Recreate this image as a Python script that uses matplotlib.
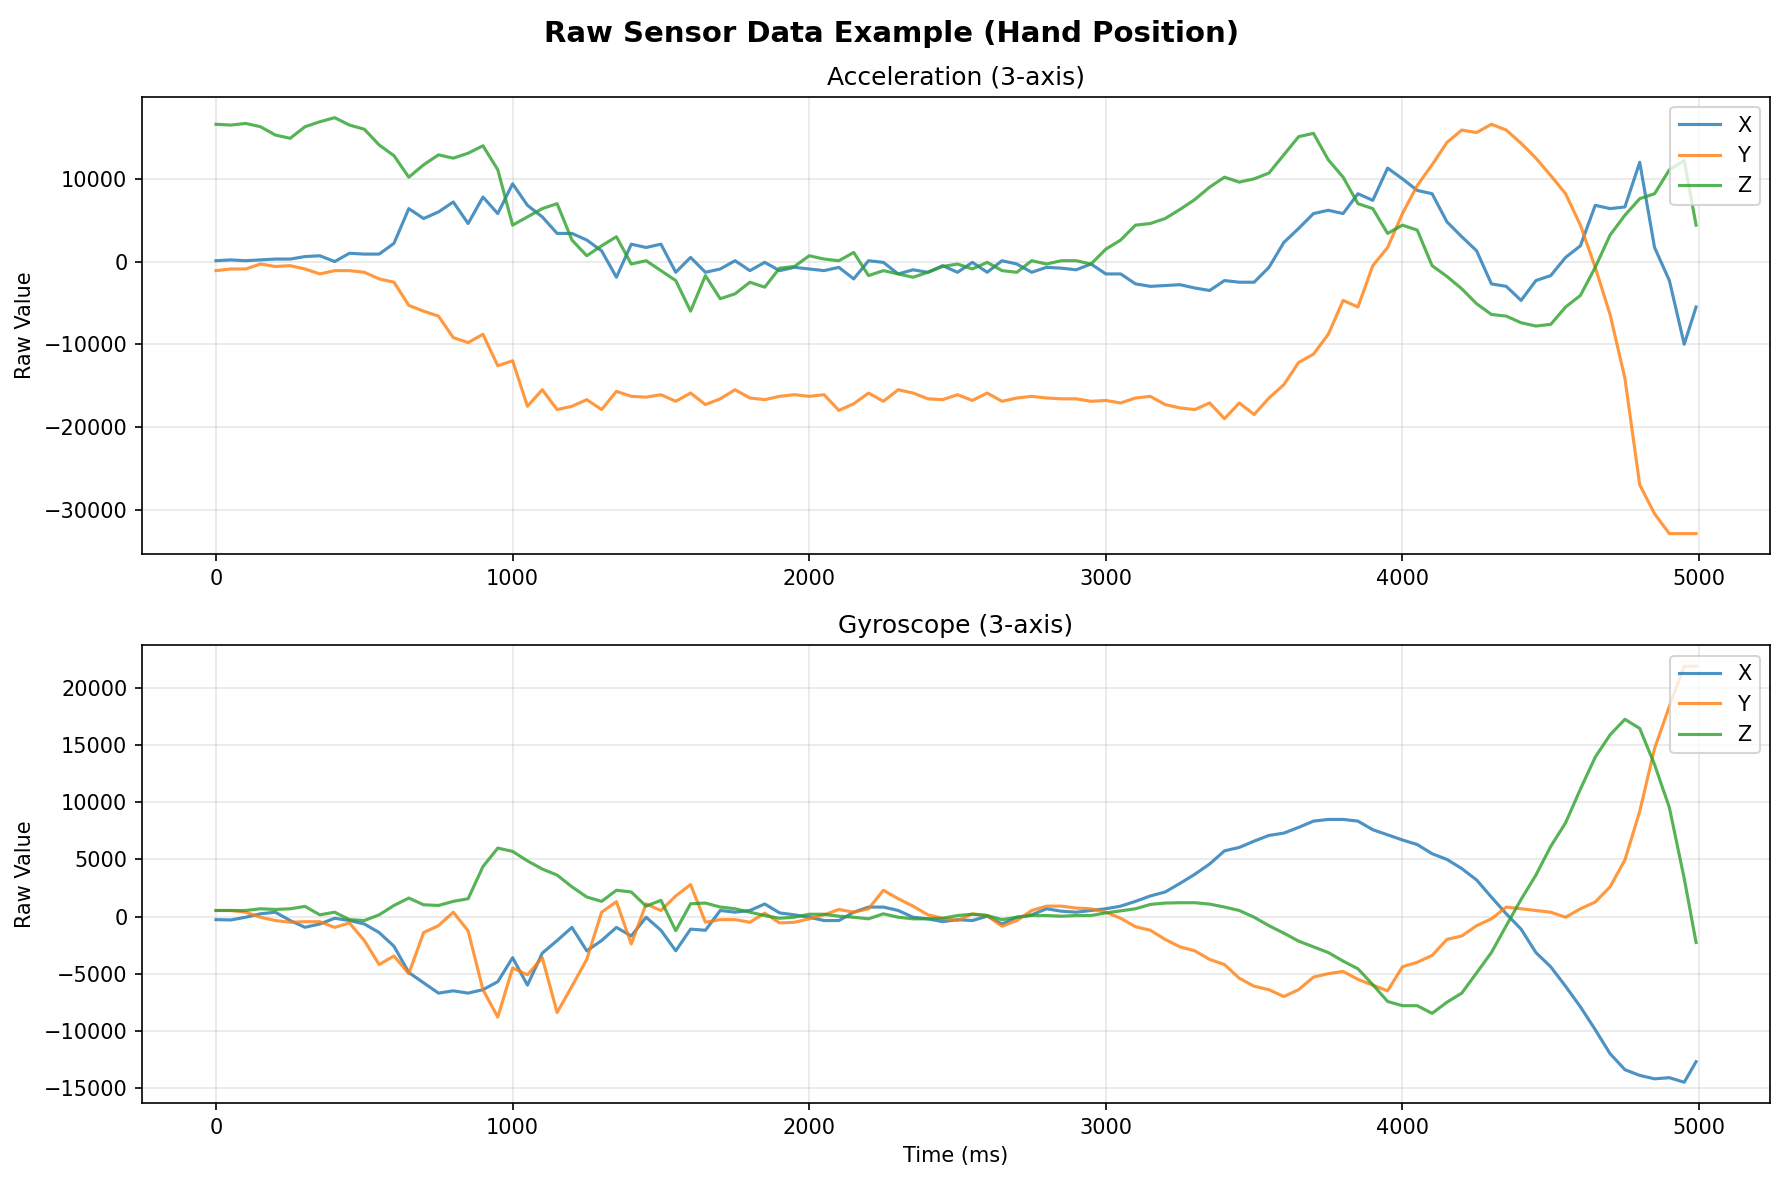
import numpy as np
import matplotlib
matplotlib.use("Agg")
import matplotlib.pyplot as plt

# sample times (ms), read every 50 ms off the chart
time_ms = np.append(np.arange(0, 5000, 50), 4990)

acc_x = [100, 200, 100, 200, 300, 300, 600, 700, 0, 1000,
         900, 900, 2200, 6400, 5200, 6000, 7200, 4600, 7800, 5800,
         9400, 6800, 5400, 3400, 3400, 2600, 1300, -1900, 2100, 1700,
         2100, -1300, 500, -1300, -900, 100, -1100, -100, -1100, -700,
         -900, -1100, -700, -2100, 100, -100, -1500, -1000, -1300, -500,
         -1300, -100, -1300, 100, -300, -1300, -700, -800, -1000, -300,
         -1500, -1500, -2700, -3000, -2900, -2800, -3200, -3500, -2300, -2500,
         -2500, -700, 2300, 4000, 5800, 6200, 5800, 8200, 7400, 11300,
         10000, 8600, 8200, 4800, 3000, 1300, -2700, -3000, -4700, -2300,
         -1700, 500, 1900, 6800, 6400, 6600, 12000, 1700, -2300, -10000,
         -5500]
acc_y = [-1100, -900, -900, -300, -600, -500, -900, -1500, -1100, -1100,
         -1300, -2100, -2500, -5300, -6000, -6600, -9200, -9800, -8800, -12600,
         -12000, -17500, -15500, -17900, -17500, -16700, -17900, -15700, -16300, -16400,
         -16100, -16900, -15900, -17300, -16600, -15500, -16500, -16700, -16300, -16100,
         -16300, -16100, -18000, -17200, -15900, -16900, -15500, -15900, -16600, -16700,
         -16100, -16800, -15900, -16900, -16500, -16300, -16500, -16600, -16600, -16900,
         -16800, -17100, -16500, -16300, -17300, -17700, -17900, -17100, -19000, -17100,
         -18500, -16500, -14900, -12200, -11200, -8800, -4700, -5500, -500, 1700,
         5800, 9200, 11700, 14400, 15900, 15600, 16600, 15900, 14300, 12500,
         10400, 8200, 4400, -700, -6400, -14100, -27000, -30500, -32900, -32900,
         -32900]
acc_z = [16600, 16500, 16700, 16300, 15300, 14900, 16300, 16900, 17400, 16500,
         16000, 14100, 12800, 10200, 11700, 12900, 12500, 13100, 14000, 11100,
         4400, 5400, 6400, 7000, 2600, 700, 1900, 3000, -300, 100,
         -1100, -2300, -6000, -1700, -4500, -3900, -2500, -3100, -800, -600,
         700, 300, 100, 1100, -1700, -1100, -1500, -1900, -1300, -600,
         -300, -900, -100, -1100, -1300, 100, -300, 100, 100, -300,
         1500, 2600, 4400, 4600, 5200, 6300, 7500, 9000, 10200, 9600,
         10000, 10700, 12900, 15100, 15500, 12300, 10200, 7000, 6400, 3400,
         4400, 3800, -500, -1800, -3300, -5100, -6400, -6600, -7400, -7800,
         -7600, -5500, -4100, -700, 3200, 5600, 7600, 8200, 11100, 12200,
         4400]

gyro_x = [-270, -300, -60, 240, 380, -350, -940, -650, -150, -350,
          -650, -1400, -2600, -4900, -5800, -6700, -6500, -6700, -6400, -5700,
          -3600, -6000, -3200, -2100, -950, -3000, -2100, -950, -1700, -60,
          -1200, -3000, -1100, -1200, 530, 380, 530, 1100, 320, 150,
          -60, -350, -350, 380, 830, 830, 530, -60, -200, -450,
          -270, -350, 30, -650, -60, 150, 680, 470, 380, 530,
          680, 910, 1330, 1800, 2150, 2900, 3700, 4600, 5750, 6050,
          6600, 7100, 7300, 7800, 8350, 8500, 8500, 8350, 7600, 7150,
          6700, 6300, 5500, 5000, 4200, 3200, 1700, 240, -1100, -3150,
          -4400, -6100, -7900, -9900, -12000, -13400, -13900, -14200, -14100, -14500,
          -12700]
gyro_y = [530, 530, 380, -60, -350, -500, -450, -450, -950, -560,
          -2100, -4200, -3450, -5000, -1400, -800, 380, -1250, -6400, -8800,
          -4500, -5100, -3600, -8400, -6100, -3750, 380, 1300, -2400, 1100,
          530, 1800, 2800, -500, -270, -270, -500, 300, -560, -500,
          -200, 150, 620, 380, 680, 2300, 1560, 910, 150, -150,
          -350, 240, 90, -850, -350, 530, 910, 910, 740, 680,
          380, -150, -890, -1200, -2000, -2650, -3000, -3750, -4200, -5400,
          -6100, -6400, -7000, -6400, -5300, -5000, -4800, -5500, -6000, -6500,
          -4400, -4000, -3400, -2000, -1700, -800, -200, 830, 680, 530,
          380, -60, 680, 1270, 2600, 4950, 9200, 14700, 18400, 21900,
          21900]
gyro_z = [530, 530, 530, 680, 620, 680, 890, 150, 380, -270,
          -350, 150, 970, 1620, 1030, 970, 1330, 1560, 4370, 5990,
          5700, 4870, 4160, 3630, 2600, 1710, 1330, 2300, 2150, 910,
          1420, -1240, 1120, 1180, 830, 680, 380, 90, -150, -60,
          200, 200, 30, -60, -200, 240, -60, -200, -200, -150,
          90, 200, 90, -270, -60, 90, 90, 30, 90, 90,
          320, 500, 680, 1060, 1180, 1210, 1210, 1090, 830, 530,
          -60, -800, -1450, -2150, -2650, -3150, -3900, -4570, -5960, -7430,
          -7800, -7800, -8470, -7500, -6700, -4930, -3150, -800, 1500, 3630,
          6140, 8200, 11150, 13950, 15900, 17260, 16460, 13300, 9530, 3330,
          -2270]

fig, axes = plt.subplots(2, 1, figsize=(1784 / 150, 1181 / 150), dpi=150)
fig.subplots_adjust(left=0.0796, right=0.9922, top=0.918, bottom=0.066, hspace=0.199)
fig.suptitle('Raw Sensor Data Example (Hand Position)', fontsize=14, fontweight='bold', y=0.983)

ax = axes[0]
ax.plot(time_ms, acc_x, label='X', alpha=0.8, linewidth=1.5)
ax.plot(time_ms, acc_y, label='Y', alpha=0.8, linewidth=1.5)
ax.plot(time_ms, acc_z, label='Z', alpha=0.8, linewidth=1.5)
ax.set_title('Acceleration (3-axis)', fontsize=12)
ax.set_ylabel('Raw Value')
ax.legend(loc='upper right')
ax.grid(True, alpha=0.3)

ax = axes[1]
ax.plot(time_ms, gyro_x, label='X', alpha=0.8, linewidth=1.5)
ax.plot(time_ms, gyro_y, label='Y', alpha=0.8, linewidth=1.5)
ax.plot(time_ms, gyro_z, label='Z', alpha=0.8, linewidth=1.5)
ax.set_title('Gyroscope (3-axis)', fontsize=12)
ax.set_xlabel('Time (ms)')
ax.set_ylabel('Raw Value')
ax.legend(loc='upper right')
ax.grid(True, alpha=0.3)

fig.savefig('out.png', dpi=150)
